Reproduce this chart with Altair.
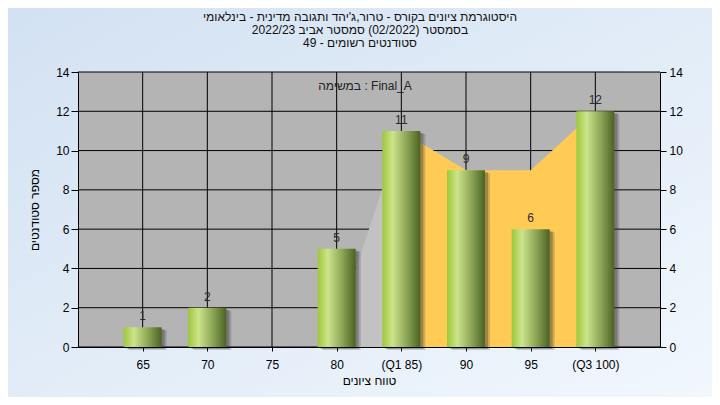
import altair as alt
import pandas as pd

grades = [65, 70, 75, 80, 85, 90, 95, 100]
counts = [1, 2, 0, 5, 11, 9, 6, 12]
x_labels = ["65", "70", "75", "80", "(Q1 85)", "90", "95", "(Q3 100)"]
y_ticks = [0, 2, 4, 6, 8, 10, 12, 14]

# light grey band (80 -> 85) and orange band (Q1 -> Q3)
grey_x = [80, 85]
grey_y = [1, 11]
orange_x = [85, 90, 95, 100]
orange_y = [11, 9, 9, 12]

title_lines = [
    "היסטוגרמת ציונים בקורס - טרור,ג'יהד ותגובה מדינית - בינלאומי",
    "בסמסטר  (02/2022)  סמסטר אביב 2022/23",
    "סטודנטים רשומים - 49",
]
x_title = "טווח ציונים"
y_title = "מספר סטודנטים"
note = "במשימה : Final_A"

FONT = "Liberation Sans"
W, H = 582, 275
PAD_L, PAD_T = 70, 64
SVG_W, SVG_H = 704, 389

bars = pd.DataFrame({"grade": grades, "count": counts})
bars = bars[bars["count"] > 0]

xscale = alt.Scale(domain=[60, 105], nice=False, zero=False, padding=0)
yscale = alt.Scale(domain=[0, 14], nice=False, padding=0)

label_expr = "".join(f"datum.value == {g} ? '{l}' : " for g, l in zip(grades, x_labels)) + "datum.label"

one = alt.Data(values=[{"a": 1}])

axis_common = dict(
    domainColor="black", tickColor="black", labelColor="black",
    labelFont=FONT, labelFontSize=12, titleFont=FONT, titleFontSize=12,
    titleFontWeight="normal", titleColor="black", grid=False, zindex=1,
)

bg = alt.Chart(one).mark_rect(
    clip=False,
    color=alt.Gradient(
        gradient="linear",
        stops=[alt.GradientStop(color="#d2e1f2", offset=0), alt.GradientStop(color="#f1f7fd", offset=1)],
        x1=0, x2=1, y1=0, y2=1,
    ),
).encode(
    x=alt.value(-PAD_L), x2=alt.value(SVG_W - PAD_L),
    y=alt.value(-PAD_T), y2=alt.value(SVG_H - PAD_T),
)

plotbg = alt.Chart(one).mark_rect(color="#b4b4b4").encode(
    x=alt.value(0), x2=alt.value(W), y=alt.value(0), y2=alt.value(H)
)

vgrid = alt.Chart(pd.DataFrame({"g": grades})).mark_rule(color="black", strokeWidth=1).encode(
    x=alt.X(
        "g:Q", scale=xscale, title=x_title,
        axis=alt.Axis(values=grades, labelExpr=label_expr, tickSize=4, labelPadding=8,
                      titlePadding=5, labelFlush=False, **axis_common),
    ),
    y=alt.value(0), y2=alt.value(H),
)
hgrid = alt.Chart(pd.DataFrame({"v": y_ticks})).mark_rule(color="black", strokeWidth=1).encode(
    y=alt.Y("v:Q", scale=yscale, axis=None), x=alt.value(0), x2=alt.value(W)
)

grey_area = alt.Chart(pd.DataFrame({"g": grey_x, "v": grey_y})).mark_area(color="#c2c2c2").encode(
    x=alt.X("g:Q", scale=xscale), y=alt.Y("v:Q", scale=yscale, axis=None)
)
orange_area = alt.Chart(pd.DataFrame({"g": orange_x, "v": orange_y})).mark_area(color="#ffcb55").encode(
    x=alt.X("g:Q", scale=xscale), y=alt.Y("v:Q", scale=yscale, axis=None)
)

shadow1 = alt.Chart(bars).mark_bar(width=38, color="#3a3a3a", opacity=0.22, xOffset=5, yOffset=3).encode(
    x=alt.X("grade:Q", scale=xscale), y=alt.Y("count:Q", scale=yscale, axis=None)
)
shadow2 = alt.Chart(bars).mark_bar(width=38, color="#3a3a3a", opacity=0.35, xOffset=3, yOffset=2).encode(
    x=alt.X("grade:Q", scale=xscale), y=alt.Y("count:Q", scale=yscale, axis=None)
)

bar_grad = alt.Gradient(
    gradient="linear",
    stops=[
        alt.GradientStop(color="#9cc83a", offset=0),
        alt.GradientStop(color="#cde38c", offset=0.27),
        alt.GradientStop(color="#94ad5c", offset=0.6),
        alt.GradientStop(color="#4a6322", offset=1),
    ],
    x1=0, x2=1, y1=0, y2=0,
)

main = alt.Chart(bars).mark_bar(width=38, color=bar_grad).encode(
    x=alt.X("grade:Q", scale=xscale),
    y=alt.Y(
        "count:Q", scale=yscale, title=y_title,
        axis=alt.Axis(values=y_ticks, orient="left", tickSize=7, labelPadding=2,
                      titlePadding=14, **axis_common),
    ),
)

right_axis = alt.Chart(pd.DataFrame({"v": y_ticks})).mark_rule(opacity=0).encode(
    y=alt.Y("v:Q", scale=yscale, title=None,
            axis=alt.Axis(values=y_ticks, orient="right", tickSize=6, labelPadding=3, **axis_common)),
    x=alt.value(0), x2=alt.value(1),
)

labels = alt.Chart(bars).mark_text(font=FONT, fontSize=12, color="#2a2a2a", baseline="bottom", dy=-4).encode(
    x=alt.X("grade:Q", scale=xscale),
    y=alt.Y("count:Q", scale=yscale, axis=None),
    text="count:Q",
)

note_text = alt.Chart(one).mark_text(font=FONT, fontSize=12, color="#222222", baseline="middle").encode(
    x=alt.value(287), y=alt.value(14), text=alt.value(note)
)

title_text = alt.Chart(one).mark_text(
    font=FONT, fontSize=12, color="#111111", baseline="top", align="center", lineHeight=13,
).encode(
    x=alt.value(282), y=alt.value(-60), text=alt.value(title_lines)
)

chart = alt.layer(
    bg, plotbg, vgrid, hgrid, grey_area, orange_area, shadow1, shadow2, main, right_axis, labels,
    note_text, title_text,
).resolve_axis(y="independent").properties(
    width=W, height=H,
    autosize=alt.AutoSizeParams(type="none"),
    padding={"left": PAD_L, "top": PAD_T, "right": SVG_W - PAD_L - W, "bottom": SVG_H - PAD_T - H},
    background="#e4edf8",
).configure_view(stroke=None)

chart.save("out.html", embed_options={"renderer": "svg", "actions": False})
